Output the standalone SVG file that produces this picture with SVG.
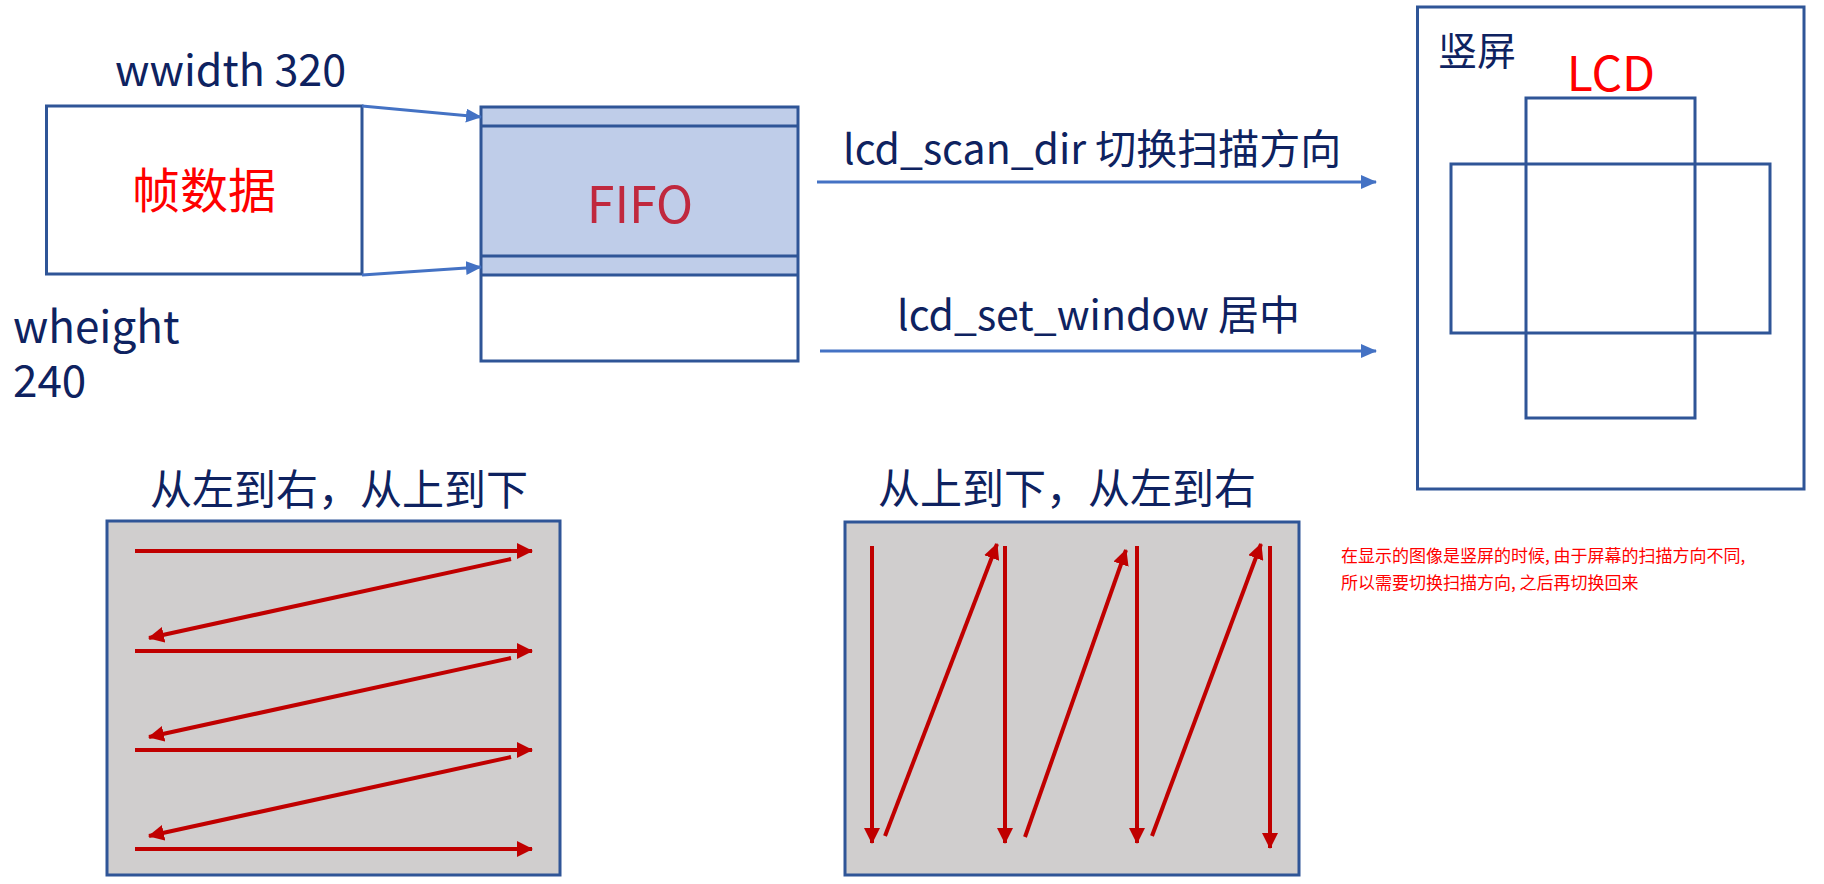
<svg xmlns="http://www.w3.org/2000/svg" width="1824" height="884" viewBox="0 0 1824 884">
<defs>
<style>
text{font-family:"Noto Sans CJK SC","Noto Sans",sans-serif;}
.dk{fill:#0E2260;}
.box{fill:none;stroke:#2F5597;stroke-width:3;}
.blue{stroke:#4472C4;stroke-width:3;fill:none;}
.red{stroke:#C00000;stroke-width:4;fill:none;}
</style>
<marker id="ab" markerUnits="userSpaceOnUse" markerWidth="16" markerHeight="14" refX="15" refY="7" orient="auto"><path d="M0,0L16,7L0,14Z" fill="#4472C4"/></marker>
<marker id="ar" markerUnits="userSpaceOnUse" markerWidth="16" markerHeight="16" refX="15" refY="8" orient="auto"><path d="M0,0L16,8L0,16Z" fill="#C00000"/></marker>
</defs>
<rect width="1824" height="884" fill="#fff"/>
<g id="frame">
<rect x="46.5" y="106" width="315.5" height="168" class="box"/>
<text x="204" y="208" font-size="48" fill="#FF0000" text-anchor="middle">帧数据</text>
</g>
<text class="dk" x="115" y="86" font-size="43">wwidth 320</text>
<text class="dk" x="13" y="343" font-size="44">wheight</text>
<text class="dk" x="13" y="397" font-size="44">240</text>
<g id="fifo">
<rect x="481" y="107" width="317" height="168" fill="#BFCDE9"/>
<rect x="481" y="107" width="317" height="254" class="box"/>
<line x1="481" y1="126" x2="798" y2="126" class="box"/>
<line x1="481" y1="256" x2="798" y2="256" class="box"/>
<line x1="481" y1="275" x2="798" y2="275" class="box"/>
<text x="640" y="223" font-size="50" fill="#C0283E" text-anchor="middle">FIFO</text>
</g>
<g id="lcd">
<rect x="1417.5" y="7" width="386.5" height="482" class="box"/>
<text class="dk" x="1438" y="65" font-size="39">竖屏</text>
<text x="1611" y="91" font-size="48" fill="#FF0000" text-anchor="middle">LCD</text>
<rect x="1526" y="98" width="169" height="320" class="box"/>
<rect x="1451" y="164" width="319" height="169" class="box"/>
</g>
<g id="connectors">
<line x1="362" y1="106" x2="481" y2="117" class="blue" marker-end="url(#ab)"/>
<line x1="362" y1="275" x2="481" y2="267" class="blue" marker-end="url(#ab)"/>
<line x1="817" y1="182" x2="1376" y2="182" class="blue" marker-end="url(#ab)"/>
<line x1="820" y1="351" x2="1376" y2="351" class="blue" marker-end="url(#ab)"/>
</g>
<text class="dk" x="843" y="164" font-size="41">lcd_scan_dir 切换扫描方向</text>
<text class="dk" x="897" y="330" font-size="41">lcd_set_window 居中</text>
<g id="scan-lr">
<text class="dk" x="150" y="505" font-size="42">从左到右，从上到下</text>
<rect x="107" y="521" width="453" height="354" fill="#D0CECE" stroke="#2F5597" stroke-width="3"/>
<g class="red">
<line x1="135" y1="551" x2="532" y2="551" marker-end="url(#ar)"/>
<line x1="135" y1="651" x2="532" y2="651" marker-end="url(#ar)"/>
<line x1="135" y1="750" x2="532" y2="750" marker-end="url(#ar)"/>
<line x1="135" y1="849" x2="532" y2="849" marker-end="url(#ar)"/>
<line x1="511" y1="559" x2="149" y2="638" marker-end="url(#ar)"/>
<line x1="511" y1="658" x2="149" y2="737" marker-end="url(#ar)"/>
<line x1="511" y1="757" x2="149" y2="836" marker-end="url(#ar)"/>
</g>
</g>
<g id="scan-tb">
<text class="dk" x="878" y="504" font-size="42">从上到下，从左到右</text>
<rect x="845" y="522" width="454" height="353" fill="#D0CECE" stroke="#2F5597" stroke-width="3"/>
<g class="red">
<line x1="872" y1="546" x2="872" y2="843" marker-end="url(#ar)"/>
<line x1="1005" y1="546" x2="1005" y2="843" marker-end="url(#ar)"/>
<line x1="1137" y1="546" x2="1137" y2="843" marker-end="url(#ar)"/>
<line x1="1270" y1="546" x2="1270" y2="848" marker-end="url(#ar)"/>
<line x1="885" y1="836" x2="997" y2="544" marker-end="url(#ar)"/>
<line x1="1025" y1="837" x2="1126" y2="550" marker-end="url(#ar)"/>
<line x1="1152" y1="836" x2="1261" y2="544" marker-end="url(#ar)"/>
</g>
</g>
<g id="note" fill="#FF0000" font-size="17">
<text x="1341" y="562">在显示的图像是竖屏的时候, 由于屏幕的扫描方向不同,</text>
<text x="1341" y="589">所以需要切换扫描方向, 之后再切换回来</text>
</g>
</svg>
